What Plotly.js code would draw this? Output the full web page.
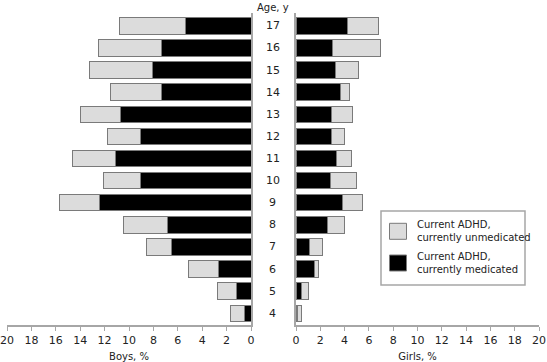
<!DOCTYPE html>
<html>
<head>
<meta charset="utf-8">
<script src="https://cdn.plot.ly/plotly-3.0.1.min.js"></script>
<style>html,body{margin:0;padding:0;background:#fff;}#chart{width:547px;height:362px;}</style>
</head>
<body>
<div id="chart"></div>
<script>
const ages = [4, 5, 6, 7, 8, 9, 10, 11, 12, 13, 14, 15, 16, 17];
// Boys, %
const boysMedicated   = [0.55, 1.17, 2.68, 6.48, 6.86, 12.38, 9.07, 11.09, 9.02, 10.71, 7.35, 8.09, 7.30, 5.41];
const boysUnmedicated = [1.15, 1.59, 2.46, 2.07, 3.58, 3.33, 2.98, 3.55, 2.76, 3.28, 4.18, 5.16, 5.24, 5.39];
// Girls, %
const girlsMedicated   = [0.14, 0.47, 1.51, 1.07, 2.58, 3.84, 2.85, 3.35, 2.96, 2.91, 3.65, 3.26, 2.99, 4.22];
const girlsUnmedicated = [0.30, 0.54, 0.36, 1.15, 1.40, 1.67, 2.12, 1.18, 1.02, 1.73, 0.74, 1.87, 3.95, 2.53];
const xTicks = [0, 2, 4, 6, 8, 10, 12, 14, 16, 18, 20];
const legendLabels = ["Current ADHD,<br>currently unmedicated", "Current ADHD,<br>currently medicated"];

const FONT = "DejaVu Sans, Verdana, sans-serif";
const GRAY = "#a6a6a6";
const MED = "#000000", UNMED = "#dcdcdc", OUTLINE = "#7a7a7a";

function bar(x, color, xa, ya) {
  return {type: "bar", orientation: "h", y: ages, x: x, xaxis: xa, yaxis: ya,
    width: 0.74, marker: {color: color, line: {color: OUTLINE, width: 1}},
    hoverinfo: "x+y", showlegend: false};
}

const data = [
  bar(boysMedicated, MED, "x", "y"),
  bar(boysUnmedicated, UNMED, "x", "y"),
  bar(girlsMedicated, MED, "x2", "y2"),
  bar(girlsUnmedicated, UNMED, "x2", "y2")
];

const yr = [3.47, 17.58];
const annotations = ages.map(a => ({xref: "paper", yref: "y", x: 0.4995, y: a, text: String(a),
  showarrow: false, xanchor: "center", yanchor: "middle", font: {family: FONT, size: 11, color: "#222"}}));
annotations.push({xref: "paper", yref: "paper", x: 0.4995, y: 1 + 13 / 312, text: "Age, y", showarrow: false,
  xanchor: "center", yanchor: "top", font: {family: FONT, size: 10, color: "#222"}});

// legend (drawn manually)
const legendColors = [UNMED, MED];
const shapes = [{type: "rect", xref: "paper", yref: "paper",
  x0: (381 - 7) / 532, x1: (525 - 7) / 532, y0: (325 - 285) / 312, y1: (325 - 211) / 312,
  line: {color: GRAY, width: 1.5}, fillcolor: "#fff"}];
legendLabels.forEach((lab, i) => {
  const top = 223.3 + i * 31.7;
  shapes.push({type: "rect", xref: "paper", yref: "paper",
    x0: (389.5 - 7) / 532, x1: (406.5 - 7) / 532, y0: (325 - top - 16) / 312, y1: (325 - top) / 312,
    line: {color: OUTLINE, width: 1}, fillcolor: legendColors[i]});
  annotations.push({xref: "paper", yref: "paper", x: (415 - 7) / 532, y: (325 - top - 8) / 312,
    text: lab, showarrow: false, xanchor: "left", yanchor: "middle", align: "left",
    font: {family: FONT, size: 10, color: "#222"}});
});

const axisCommon = {tickvals: xTicks, ticktext: xTicks.map(String), ticks: "outside", ticklen: 4,
  tickcolor: GRAY, showline: true, linecolor: GRAY, linewidth: 2, showgrid: false, zeroline: false,
  tickfont: {family: FONT, size: 11, color: "#222"}, fixedrange: true};

const layout = {
  width: 547, height: 362,
  margin: {l: 7, r: 8, t: 13, b: 37},
  paper_bgcolor: "#fff", plot_bgcolor: "#fff",
  barmode: "stack", showlegend: false,
  font: {family: FONT, size: 11, color: "#222"},
  xaxis: Object.assign({}, axisCommon, {domain: [0, 244 / 532], range: [20, 0], anchor: "y",
    title: {text: "Boys, %", font: {family: FONT, size: 10, color: "#222"}, standoff: 8}}),
  xaxis2: Object.assign({}, axisCommon, {domain: [289 / 532, 1], range: [0, 20], anchor: "y2",
    title: {text: "Girls, %", font: {family: FONT, size: 10, color: "#222"}, standoff: 8}}),
  yaxis: {range: yr, anchor: "x", side: "right", showline: true, linecolor: GRAY, linewidth: 2,
    showticklabels: false, ticks: "", showgrid: false, zeroline: false, fixedrange: true},
  yaxis2: {range: yr, anchor: "x2", side: "left", showline: true, linecolor: GRAY, linewidth: 2,
    showticklabels: false, ticks: "", showgrid: false, zeroline: false, fixedrange: true},
  annotations: annotations,
  shapes: shapes
};

Plotly.newPlot("chart", data, layout, {displayModeBar: false, staticPlot: true});
</script>
</body>
</html>
